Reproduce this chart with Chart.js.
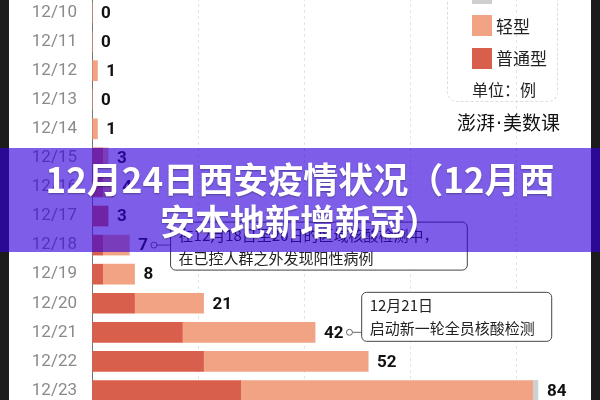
<!DOCTYPE html>
<html>
<head>
<meta charset="utf-8">
<script src="https://cdn.jsdelivr.net/npm/chart.js@4.4.0/dist/chart.umd.min.js"></script>
<style>
  html, body { margin: 0; padding: 0; }
  body { width: 600px; height: 400px; overflow: hidden; position: relative; background: #fff;
         font-family: "Noto Sans CJK SC", "Noto Sans", sans-serif; }
  .strip { position: absolute; top: 0; height: 400px; background: #1c1c1c; }
  #wrap { position: absolute; left: 9px; top: -2px; width: 582px; height: 407px; }
  #legend { position: absolute; left: 447px; top: -20px; width: 109px; height: 120px;
            border: 1px dashed #ddd; border-radius: 10px; }
  .sw { position: absolute; left: 24px; width: 20px; height: 21px; }
  .lt { position: absolute; left: 48px; font-size: 17px; color: #222; line-height: 21px; }
  #unit { position: absolute; left: 0; width: 112px; text-align: center; top: 96px; font-size: 16px; color: #222; }
  #logo { position: absolute; left: 457px; top: 108px; font-size: 19px; color: #111; white-space: nowrap; }
  #logo .dot { font-family: "DejaVu Sans", sans-serif; margin: 0 1px; }
  #banner { position: absolute; left: 0; top: 148px; width: 600px; height: 104px;
            background: rgba(50, 0, 220, 0.63); }
  #title { position: absolute; left: 0; top: 157px; width: 600px; text-align: center;
           color: #fff; font-weight: bold; font-size: 35px; line-height: 42px;
           text-shadow: 0 1px 2px rgba(0,0,0,0.35); }
</style>
</head>
<body>
<div class="strip" style="left:0;width:9px"></div>
<div class="strip" style="left:591px;width:9px"></div>
<div id="wrap"><canvas id="chart"></canvas></div>
<div id="legend">
  <div class="sw" style="top:2px;background:#cfcfcf"></div>
  <div class="sw" style="top:34px;background:#f2a383"></div>
  <div class="lt" style="top:34px">轻型</div>
  <div class="sw" style="top:67px;background:#d85f4b"></div>
  <div class="lt" style="top:66px">普通型</div>
  <div id="unit">单位：例</div>
</div>
<div id="logo">澎湃<span class="dot">·</span>美数课</div>
<div id="banner"></div>
<div id="title">12月24日西安疫情状况（12月西<br>安本地新增新冠）</div>

<script>
const dates = ['12/10', '12/11', '12/12', '12/13', '12/14', '12/15', '12/16',
  '12/17', '12/18', '12/19', '12/20', '12/21', '12/22', '12/23'];
const severe = [0, 0, 0, 0, 0, 2, 2, 3, 2, 2, 8, 17, 21, 28];   // 普通型
const mild = [0, 0, 1, 0, 1, 1, 2, 0, 5, 6, 13, 25, 31, 55];    // 轻型
const other = [0, 0, 0, 0, 0, 0, 0, 0, 0, 0, 0, 0, 0, 1];       // grey, legend cut off

const notes = [
  { idx: 8, lines: ['在12月18日至20日的区域核酸检测中，', '在已控人群之外发现阳性病例'], x0: 14.8, x1: 70.7, top: -23, bottom: 25 },
  { idx: 11, lines: ['12月21日', '启动新一轮全员核酸检测'], x0: 50.8, x1: 86.6, top: -40, bottom: 9 }
];

// totals printed at the end of each bar
const totalsPlugin = {
  id: 'totals',
  afterDatasetsDraw(chart) {
    const ctx = chart.ctx;
    const xs = chart.scales.x, ys = chart.scales.y;
    ctx.save();
    ctx.font = 'bold 17px Roboto, "DejaVu Sans", sans-serif';
    ctx.fillStyle = '#111';
    ctx.textBaseline = 'middle';
    dates.forEach((d, i) => {
      const total = severe[i] + mild[i] + other[i];
      ctx.fillText(String(total), xs.getPixelForValue(total) + 9, ys.getPixelForValue(i) + 1);
    });
    ctx.restore();
  }
};

// the two callout boxes
const notesPlugin = {
  id: 'notes',
  afterDraw(chart) {
    const ctx = chart.ctx;
    const xs = chart.scales.x, ys = chart.scales.y;
    ctx.save();
    ctx.font = 'bold 17px Roboto, "DejaVu Sans", sans-serif';
    notes.forEach(n => {
      const total = severe[n.idx] + mild[n.idx] + other[n.idx];
      const yc = ys.getPixelForValue(n.idx);
      const lx = xs.getPixelForValue(total) + 9 + ctx.measureText(String(total)).width + 6;
      const bx0 = xs.getPixelForValue(n.x0), bx1 = xs.getPixelForValue(n.x1);
      const by0 = yc + n.top, by1 = yc + n.bottom;
      ctx.strokeStyle = '#666';
      ctx.lineWidth = 1;
      ctx.beginPath();
      ctx.moveTo(lx + 3, yc);
      ctx.lineTo(bx0, yc);
      ctx.stroke();
      ctx.beginPath();
      ctx.arc(lx, yc, 3, 0, Math.PI * 2);
      ctx.fillStyle = '#fff';
      ctx.fill();
      ctx.stroke();
      ctx.beginPath();
      ctx.roundRect(bx0, by0, bx1 - bx0, by1 - by0, 5);
      ctx.fillStyle = '#fff';
      ctx.fill();
      ctx.strokeStyle = '#444';
      ctx.stroke();
      ctx.fillStyle = '#222';
      ctx.textBaseline = 'middle';
      n.lines.forEach((t, k) => {
        ctx.font = '15px "Noto Sans CJK SC", sans-serif';
        ctx.fillText(t, bx0 + 8, by0 + 13 + k * 23);
      });
      ctx.font = 'bold 17px Roboto, "DejaVu Sans", sans-serif';
    });
    ctx.restore();
  }
};

new Chart(document.getElementById('chart').getContext('2d'), {
  type: 'bar',
  data: {
    labels: dates,
    datasets: [
      { label: '普通型', data: severe, backgroundColor: '#d85f4b', barThickness: 20 },
      { label: '轻型', data: mild, backgroundColor: '#f2a383', barThickness: 20 },
      { label: '其他', data: other, backgroundColor: '#cfcfcf', barThickness: 20 }
    ]
  },
  options: {
    indexAxis: 'y',
    responsive: true,
    maintainAspectRatio: false,
    animation: false,
    layout: { padding: 0 },
    plugins: { legend: { display: false }, tooltip: { enabled: false } },
    scales: {
      x: {
        stacked: true,
        min: 0,
        max: 94,
        ticks: { display: false, stepSize: 20 },
        grid: { color: '#e4e4e4', drawTicks: false },
        border: { display: false, dash: [3, 3] },
        afterFit(s) { s.height = 0; s.paddingLeft = 0; s.paddingRight = 0; }
      },
      y: {
        stacked: true,
        grid: { display: false },
        border: { display: true, color: '#777', width: 1 },
        ticks: { color: '#8a8a8a', font: { size: 17, family: 'Roboto' }, padding: 7 },
        afterFit(s) { s.width = 83; s.paddingTop = 0; s.paddingBottom = 0; }
      }
    }
  },
  plugins: [totalsPlugin, notesPlugin]
});
</script>
</body>
</html>
